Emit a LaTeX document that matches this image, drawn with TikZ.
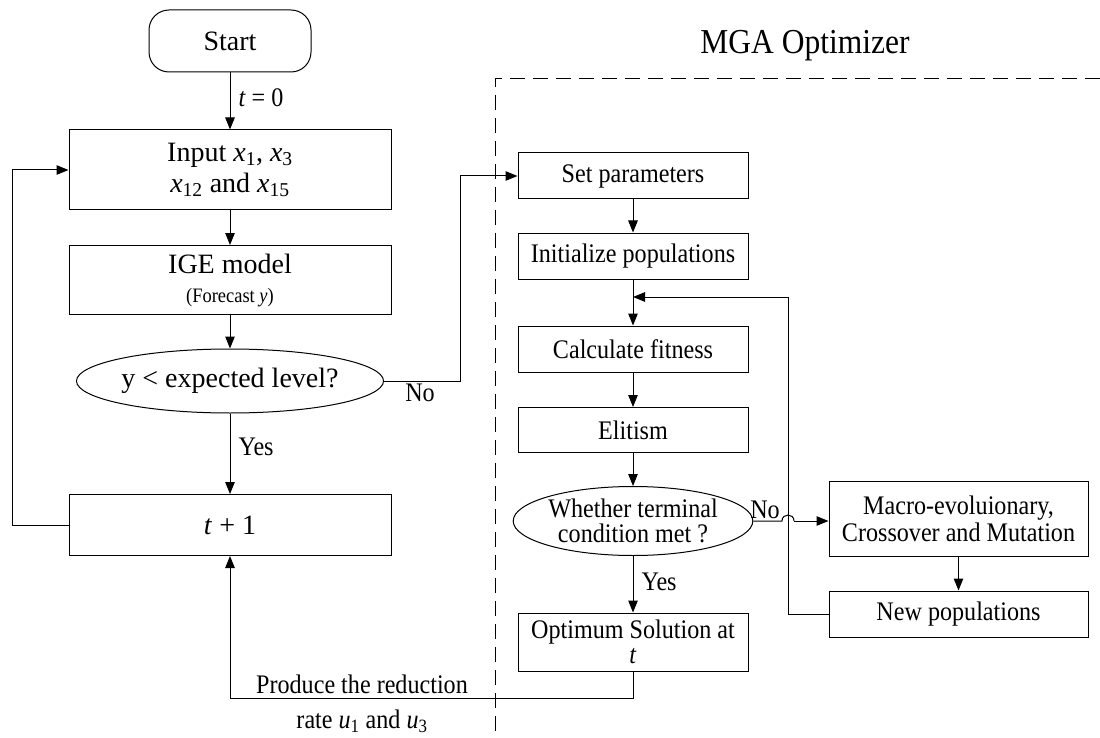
\documentclass[tikz,border=0pt]{standalone}
\usepackage{fontspec}
\setmainfont{Liberation Serif}
\newfontfamily\condfont{Liberation Serif}[FakeStretch=0.9]
\usetikzlibrary{arrows.meta,shapes.geometric,calc}
\newcommand{\vsub}[2]{\textit{#1}\textsubscript{#2}}
\begin{document}
\begin{tikzpicture}[x=1pt,y=-1pt,
  lbox/.style={draw, line width=1pt, minimum width=322pt, inner sep=0pt, align=center, font=\fontsize{28}{31}\selectfont},
  rbox/.style={draw, line width=1pt, minimum width=230pt, minimum height=46pt, inner sep=0pt, align=center, font=\condfont\fontsize{26.8}{28}\selectfont},
  dec/.style={draw, line width=1pt, ellipse, inner sep=0pt, align=center},
  arr/.style={-{Triangle[length=12pt,width=9.5pt]}, line width=1pt},
  lin/.style={line width=1pt},
  lab/.style={font=\condfont\fontsize{26.8}{28}\selectfont, inner sep=0pt}
]
\useasboundingbox (0,0) rectangle (1100,738);
% left column
\node[draw, line width=1pt, rounded corners=20pt, minimum width=162pt, minimum height=62pt, font=\fontsize{28}{31}\selectfont] (start) at (230,41) {Start};
\node[lbox, minimum height=80pt] (input) at (230,170) {Input \vsub{x}{1}, \vsub{x}{3}\\\vsub{x}{12} and \vsub{x}{15}};
\node[lbox, minimum height=69pt] (ige) at (230,280) {IGE model\\[-2pt]{\condfont\fontsize{20.5}{22}\selectfont (Forecast \textit{y})}};
\node[dec, minimum width=300pt, minimum height=64pt, font=\fontsize{28}{31}\selectfont] (d1) at (230,381) {y < expected level?};
\node[lbox, minimum height=61pt] (tp) at (230,525) {\textit{t} + 1};
% title and dashed frame
\node[font=\condfont\fontsize{35}{38}\selectfont, inner sep=0pt] (title) at (805,46) {MGA Optimizer};
\coordinate (fr1) at (1100,79);
\coordinate (fr2) at (495,79);
\coordinate (fr3) at (495,738);
\draw[line width=1pt, dash pattern=on 15pt off 8pt] (fr1) -- (fr2) -- (fr3);
% right column
\node[rbox] (setp) at (633,176) {Set parameters};
\node[rbox] (init) at (633,256) {Initialize populations};
\node[rbox] (calc) at (633,349) {Calculate fitness};
\node[rbox, minimum height=45pt] (elit) at (633,430) {Elitism};
\node[dec, minimum width=221pt, minimum height=69pt, font=\condfont\fontsize{26.8}{25}\selectfont] (d2) at (633,521) {Whether terminal\\condition met ?};
\node[rbox, minimum height=58pt, font=\condfont\fontsize{26.8}{25}\selectfont] (opt) at (633,642) {Optimum Solution at\\\textit{t}};
\node[rbox, minimum width=259pt, minimum height=75pt, font=\condfont\fontsize{26.8}{27}\selectfont] (macro) at (958.5,518.5) {Macro-evoluionary,\\Crossover and Mutation};
\node[rbox, minimum width=259pt] (newp) at (958.5,614) {New populations};
% connectors left
\draw[arr] (start) -- (input) node[lab, pos=0.45, right=8pt] {\textit{t} = 0};
\draw[arr] (input) -- (ige);
\draw[arr] (ige) -- (d1);
\draw[arr] (d1) -- (tp) node[lab, pos=0.42, right=8pt] {Yes};
\coordinate (lp) at (12,525);
\draw[arr] (tp.west) -- (lp) |- (input.west);
\coordinate (nop) at (460,381);
\draw[arr] (d1.east) -- (nop) |- (setp.west);
\node[lab] (nolab) at (420,393) {No};
% connectors right
\draw[arr] (setp) -- (init);
\draw[arr] (init) -- (calc);
\draw[arr] (calc) -- (elit);
\draw[arr] (elit) -- (d2);
\draw[arr] (d2) -- (opt) node[lab, pos=0.45, right=8pt] {Yes};
\coordinate (h1) at (782,521);
\coordinate (h2) at (794,521);
\draw[lin] (d2.east) -- (h1) .. controls (782,513) and (794,513) .. (h2);
\draw[arr] (h2) -- (macro.west |- h2);
\node[lab] (no2) at (765,510) {No};
\draw[arr] (macro) -- (newp);
\coordinate (lb1) at (788,614);
\coordinate (lb2) at (788,297);
\coordinate (lb3) at (633,297);
\draw[arr] (newp.west) -- (lb1) -- (lb2) -- (lb3);
\coordinate (bt1) at (633,698);
\coordinate (bt2) at (230,698);
\draw[arr] (opt.south) -- (bt1) -- (bt2) -- (tp.south);
\node[lab] (prod) at (362,684) {Produce the reduction};
\node[lab] (rate) at (362,721) {rate \vsub{u}{1} and \vsub{u}{3}};
\end{tikzpicture}
\end{document}
